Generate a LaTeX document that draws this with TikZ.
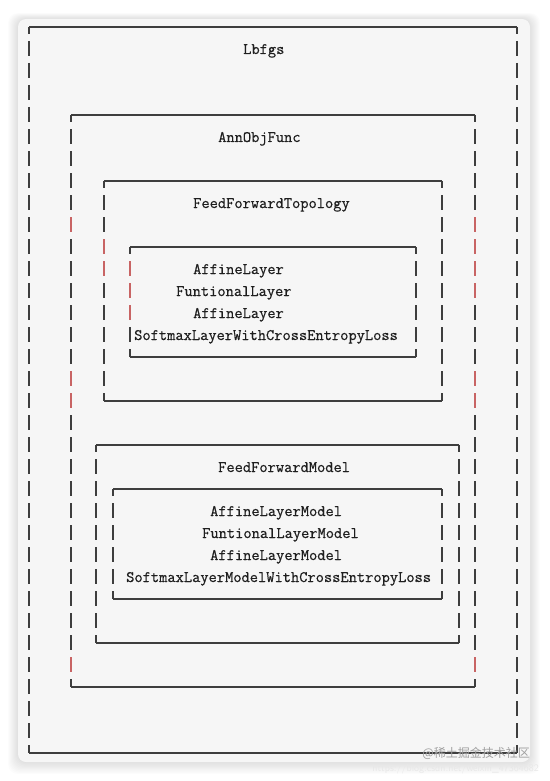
\documentclass[tikz,border=0pt]{standalone}
\usepackage{fontspec}
\newfontfamily\cjk{Noto Sans CJK SC}
\newfontfamily\codefont{Latin Modern Mono}[UprightFeatures={FakeBold=0.6}]
\definecolor{cardGray}{RGB}{246,246,246}
\definecolor{lineGray}{RGB}{62,62,62}
\definecolor{barRed}{RGB}{200,100,100}
\definecolor{textBlack}{RGB}{30,30,30}
\begin{document}
\begin{tikzpicture}[x=1pt,y=-1pt,
    boxEdge/.style={draw=lineGray,line width=1.6pt},
    boxSide/.style={draw=lineGray,line width=1.6pt,dash pattern=on 15pt off 7pt,dash phase=8pt},
    redBar/.style={draw=barRed,line width=1.6pt},
    codeText/.style={font=\fontsize{16}{22}\selectfont\codefont,text=textBlack,inner sep=0pt,anchor=base west},
]
\useasboundingbox[fill=white] (0,0) rectangle (549,781);
% Card with soft shadow
\foreach \s in {1,...,10}
  \fill[black,opacity=0.012,rounded corners=10pt] (18-\s,{19-0.6*\s}) rectangle (530+\s,{762+1.2*\s});
\fill[cardGray,rounded corners=8pt] (18,19) rectangle (530,762);
% Lbfgs
\draw[boxEdge] (29,27) -- (517,27) (29,753) -- (517,753);
\draw[boxSide] (29,27) -- (29,753) (517,27) -- (517,753);
\node[codeText] (Lb) at (243,54) {Lbfgs};
% AnnObjFunc
\draw[boxEdge] (71,115) -- (475,115) (71,687) -- (475,687);
\draw[boxSide] (71,115) -- (71,687) (475,115) -- (475,687);
\node[codeText] (AOF) at (218,142) {AnnObjFunc};
% FeedForwardTopology
\draw[boxEdge] (104,181) -- (442,181) (104,401) -- (442,401);
\draw[boxSide] (104,181) -- (104,401) (442,181) -- (442,401);
\node[codeText] (FFT) at (193,208) {FeedForwardTopology};
\draw[boxEdge] (130,247) -- (416,247) (130,357) -- (416,357);
\draw[boxSide] (130,247) -- (130,357) (416,247) -- (416,357);
\node[codeText] (L1) at (193,274) {AffineLayer};
\node[codeText] (L2) at (176,296) {FuntionalLayer};
\node[codeText] (L3) at (193,318) {AffineLayer};
\node[codeText] (L4) at (134,340) {SoftmaxLayerWithCrossEntropyLoss};
% FeedForwardModel
\draw[boxEdge] (96,445) -- (459,445) (96,643) -- (459,643);
\draw[boxSide] (96,445) -- (96,643) (459,445) -- (459,643);
\node[codeText] (FFM) at (218,472) {FeedForwardModel};
\draw[boxEdge] (113,489) -- (442,489) (113,599) -- (442,599);
\draw[boxSide] (113,489) -- (113,599) (442,489) -- (442,599);
\node[codeText] (M1) at (210,516) {AffineLayerModel};
\node[codeText] (M2) at (202,538) {FuntionalLayerModel};
\node[codeText] (M3) at (210,560) {AffineLayerModel};
\node[codeText] (M4) at (126,582) {SoftmaxLayerModelWithCrossEntropyLoss};
% Highlighted bars
\foreach \k in {8,15,16,28}
  \draw[redBar] (71,{41+22*\k}) -- (71,{56+22*\k});
\foreach \k in {8,9,10,11,15,16,28}
  \draw[redBar] (475,{41+22*\k}) -- (475,{56+22*\k});
\foreach \k in {9,10}
  \draw[redBar] (104,{41+22*\k}) -- (104,{56+22*\k});
\foreach \k in {10,11,12}
  \draw[redBar] (130,{41+22*\k}) -- (130,{56+22*\k});
% Watermark
\node[font=\fontsize{10}{10}\selectfont\sffamily,text=gray!18,anchor=east,inner sep=0pt] (url) at (539,769) {https://blog.csdn.net/weixin\_47364682};
\node[font=\cjk\fontsize{12}{12}\selectfont,text=gray!75,anchor=east,inner sep=0pt] (wm) at (530,753) {@稀土掘金技术社区};
\end{tikzpicture}
\end{document}
